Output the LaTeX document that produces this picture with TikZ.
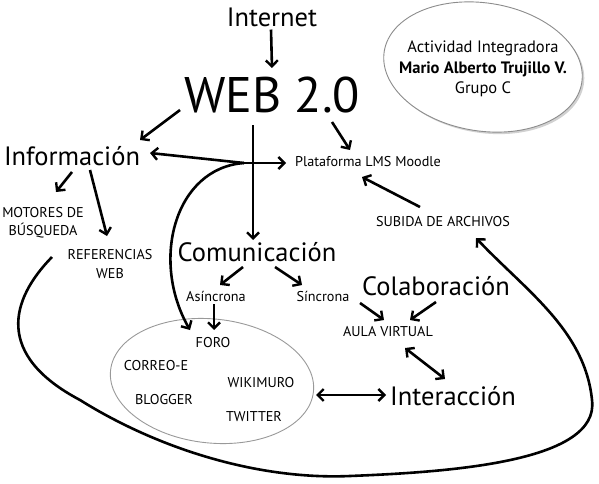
\documentclass[tikz,border=0pt]{standalone}
\usepackage{fontspec}
\setmainfont{PT Sans}
\usetikzlibrary{arrows.meta}
\begin{document}
\begin{tikzpicture}[x=1pt,y=-1pt,
  tip/.tip={Straight Barb[length=6pt,width=12pt,line width=2.4pt]},
  huge/.style={font=\fontsize{50}{52}\selectfont, inner sep=0pt, anchor=base},
  big/.style={font=\fontsize{26.5}{28}\selectfont, inner sep=0pt, anchor=base},
  mid/.style={font=\fontsize{16.5}{18}\selectfont, inner sep=0pt, anchor=base},
  small/.style={font=\fontsize{14.2}{16}\selectfont, inner sep=0pt, anchor=base},
  arr/.style={line width=2.6pt, -tip},
  darr/.style={line width=2.6pt, tip-tip},
  bubble/.style={draw=black!45, line width=0.9pt, fill=white},
]
\useasboundingbox (0,0) rectangle (599,484);

% top right ellipse
\fill[black!18, rotate around={-9:(485,69)}] (485,69) ellipse [x radius=100, y radius=64];
\path[bubble, rotate around={-9:(483,67)}] (483,67) ellipse [x radius=100, y radius=64];
\node[mid] (act) at (483,53) {Actividad Integradora};
\node[mid, font=\fontsize{16.5}{18}\selectfont\bfseries] (mario) at (483,74) {Mario Alberto Trujillo V.};
\node[mid] (grupo) at (483,94) {Grupo C};

% main nodes
\node[big] (internet) at (272,27) {Internet};
\node[huge] (web) at (272,113) {WEB 2.0};
\node[big] (info) at (72,165) {Información};
\node[small] (lms) at (368,166) {Plataforma LMS Moodle};
\node[small] (motores) at (43,217) {MOTORES DE};
\node[small] (busq) at (43,235) {BÚSQUEDA};
\node[small] (refs) at (110,259) {REFERENCIAS};
\node[small] (refw) at (110,278) {WEB};
\node[big] (com) at (257,261) {Comunicación};
\node[small] (asin) at (216,301) {Asíncrona};
\node[small] (sin) at (323,301) {Síncrona};
\node[big] (col) at (436,295) {Colaboración};
\node[small] (sub) at (443,226) {SUBIDA DE ARCHIVOS};
\node[small] (aula) at (388,336) {AULA VIRTUAL};
\node[big] (inter) at (453,405) {Interacción};

% tools ellipse
\path[draw=black!40, line width=0.9pt, rotate around={-6:(212,381)}] (212,381) ellipse [x radius=102, y radius=62];
\node[small] (foro) at (213,347) {FORO};
\node[small] (correo) at (156,370) {CORREO-E};
\node[small] (wiki) at (261,387) {WIKIMURO};
\node[small] (blog) at (164,404) {BLOGGER};
\node[small] (tw) at (254,421) {TWITTER};

% junction
\coordinate (J) at (244,163);

% arrows
\draw[arr] ([shift={(-1,2)}]internet.south) -- ([shift={(0,-45)}]web.base);
\draw[arr] ([shift={(-92,-3)}]web.base) -- ([shift={(68,-25)}]info.base);
\draw[arr] ([shift={(-19,12)}]web.base) -- ([shift={(-4,-21)}]com.base);
\draw[arr] ([shift={(60,9)}]web.base) -- ([shift={(-18,-16)}]lms.base);
\draw[arr] (J) -- ([shift={(78,-12)}]info.base);
\draw[arr] (J) -- ([shift={(-82,-3)}]lms.base);
\draw[arr] (J) .. controls (175,168) and (150,260) .. ([shift={(-23,-17)}]foro.base);
\draw[arr] ([shift={(0,7)}]info.base) -- ([shift={(13,-25)}]motores.base);
\draw[arr] ([shift={(18,5)}]info.base) -- ([shift={(-3,-23)}]refs.base);
\draw[arr] ([shift={(-14,6)}]com.base) -- ([shift={(4,-16)}]asin.base);
\draw[arr] ([shift={(18,6)}]com.base) -- ([shift={(-21,-16)}]sin.base);
\draw[arr] ([shift={(-2,3)}]asin.base) -- ([shift={(1,-17)}]foro.base);
\draw[arr] ([shift={(37,2)}]sin.base) -- ([shift={(-4,-16)}]aula.base);
\draw[arr] ([shift={(0,7)}]col.base) -- ([shift={(22,-16)}]aula.base);
\draw[arr] ([shift={(-23,-19)}]sub.base) -- ([shift={(-6,11)}]lms.base);
\draw[darr] ([shift={(17,12)}]aula.base) -- ([shift={(-8,-26)}]inter.base);
\draw[darr] ([shift={(152,-9)}]blog.base) -- ([shift={(-67,-10)}]inter.base);

% big loop from REFERENCIAS WEB to SUBIDA DE ARCHIVOS
\draw[arr] ([shift={(-58,-2)}]refs.base) .. controls (10,300) and (-5,355) .. (80,400)
  .. controls (160,450) and (260,480) .. (350,476)
  .. controls (450,472) and (600,462) .. (592,400)
  .. controls (585,330) and (525,290) .. ([shift={(33,12)}]sub.base);
\end{tikzpicture}
\end{document}
